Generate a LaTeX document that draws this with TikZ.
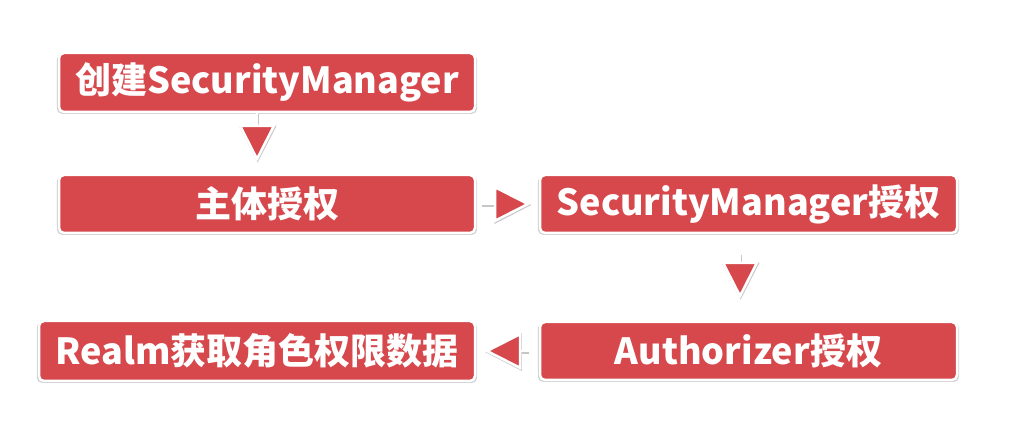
\documentclass[tikz,border=0pt]{standalone}
\usepackage{fontspec}
\setmainfont{Noto Sans CJK SC}
\usetikzlibrary{arrows.meta,shadows}
\definecolor{boxred}{RGB}{214,72,76}
\tikzset{
  box/.style={draw=white, line width=2.5pt, fill=boxred, rounded corners=5pt,
    inner sep=0pt, text=white, font=\fontsize{36}{40}\selectfont\bfseries,
    general shadow={shadow scale=1.01, shadow yshift=-1.5pt, opacity=0.18, fill=black},
    drop shadow={shadow xshift=0.3pt, shadow yshift=-1pt, opacity=0.22, fill=black}},
  conn/.style={draw=white, line width=2.5pt,
    -{Triangle[length=37pt, width=37pt, fill=boxred, line join=miter]}},
  connshadow/.style={draw=black!22, line width=3.5pt,
    -{Triangle[length=37pt, width=37pt, fill=black!22]},
    transform canvas={shift={(0.6pt,-1pt)}}}
}
\begin{document}
\begin{tikzpicture}[x=1pt,y=1pt]
\useasboundingbox (0,0) rectangle (1013,431);
\fill[white] (0,0) rectangle (1013,431);
\node[box, minimum width=416pt, minimum height=59pt] (b1) at (267,348.5) {创建SecurityManager};
\node[box, minimum width=416pt, minimum height=58pt] (b2) at (267,227) {主体授权};
\node[box, minimum width=417pt, minimum height=58pt] (b3) at (748.5,227) {SecurityManager授权};
\node[box, minimum width=417pt, minimum height=58pt] (b4) at (748.5,80) {Authorizer授权};
\node[box, minimum width=436pt, minimum height=60pt] (b5) at (257,80) {Realm获取角色权限数据};
\foreach \s in {connshadow,conn}{
  \draw[\s] ([xshift=-10pt]b1.south) -- ([xshift=-10pt,yshift=12pt]b2.north);
  \draw[\s] ([xshift=5pt]b2.east) -- ([xshift=-8pt]b3.west);
  \draw[\s] ([xshift=-8.5pt,yshift=-20pt]b3.south) -- ([xshift=-8.5pt,yshift=22pt]b4.north);
  \draw[\s] ([xshift=-10pt]b4.west) -- ([xshift=8pt]b5.east);
}
\end{tikzpicture}
\end{document}
